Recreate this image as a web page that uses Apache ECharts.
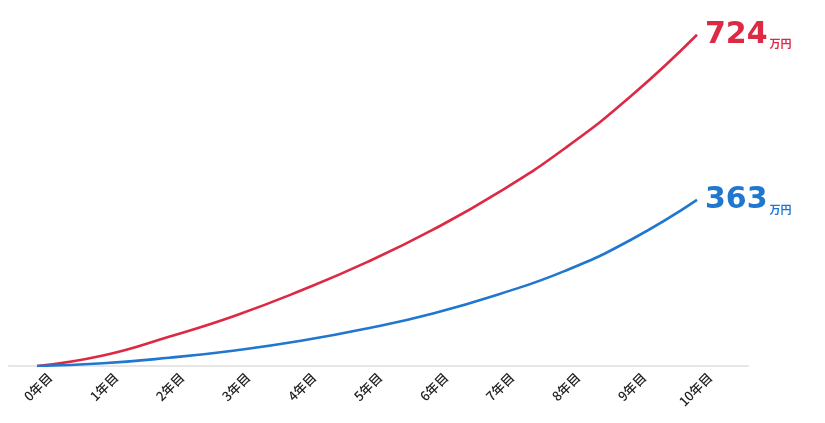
<!DOCTYPE html>
<html><head><meta charset="utf-8">
<script src="https://cdn.jsdelivr.net/npm/echarts@6/dist/echarts.min.js"></script>
<style>html,body{margin:0;padding:0;background:#fff}#c{width:825px;height:423px}</style>
</head><body><div id="c"></div>
<script>
var years = [0,1,2,3,4,5,6,7,8,9,10];
var yearLabels = ['0年目','1年目','2年目','3年目','4年目','5年目','6年目','7年目','8年目','9年目','10年目'];
var redValues = [0, 23, 64, 110, 165, 227, 298, 380, 476, 590, 724];
var blueValues = [0, 6, 18, 34, 55, 82, 115, 157, 208, 276, 363];
var unitText = '万円';

var RED = '#dc2a45', BLUE = '#1f77d0';
var xMin = -28/66, xMax = 711/66, labelShift = 13/66;

function pairs(vals){ return years.map(function(y,i){ return [y, vals[i]]; }); }
function endLabel(color){
  return {
    show: true, distance: 8,
    formatter: function(p){ return '{a|' + p.value[1] + '}{b|' + unitText + '}'; },
    rich: {
      a: {fontFamily: 'DejaVu Sans', fontWeight: 'bold', fontSize: 30, color: color},
      b: {fontFamily: 'Noto Sans CJK JP', fontWeight: 'bold', fontSize: 11, color: color, verticalAlign: 'bottom', padding: [0,0,0,2]}
    }
  };
}
var chart = echarts.init(document.getElementById('c'));
chart.setOption({
  animation: false,
  grid: {left: 9, right: 77, top: 0, bottom: 57, containLabel: false},
  xAxis: [{
    type: 'value', min: xMin, max: xMax,
    axisLine: {show: true, onZero: false, lineStyle: {color: '#e6e6e6', width: 2}},
    axisTick: {show: false}, axisLabel: {show: false}, splitLine: {show: false}
  },{
    type: 'value', min: xMin - labelShift, max: xMax - labelShift, position: 'bottom',
    axisLine: {show: false}, axisTick: {show: false}, splitLine: {show: false},
    axisLabel: {
      show: true, rotate: 45, margin: 9, customValues: years,
      fontFamily: 'Noto Sans CJK JP', fontSize: 13, fontWeight: 500, color: '#222',
      formatter: function(v){ return yearLabels[years.indexOf(Math.round(v))]; }
    }
  }],
  yAxis: {type: 'value', min: 0, max: 800, show: false, splitLine: {show: false}},
  series: [{
    type: 'line', data: pairs(redValues), smooth: 0.5, showSymbol: false,
    lineStyle: {color: RED, width: 2.6}, itemStyle: {color: RED}, endLabel: endLabel(RED)
  },{
    type: 'line', data: pairs(blueValues), smooth: 0.5, showSymbol: false,
    lineStyle: {color: BLUE, width: 2.6}, itemStyle: {color: BLUE}, endLabel: endLabel(BLUE)
  }]
});
</script></body></html>
